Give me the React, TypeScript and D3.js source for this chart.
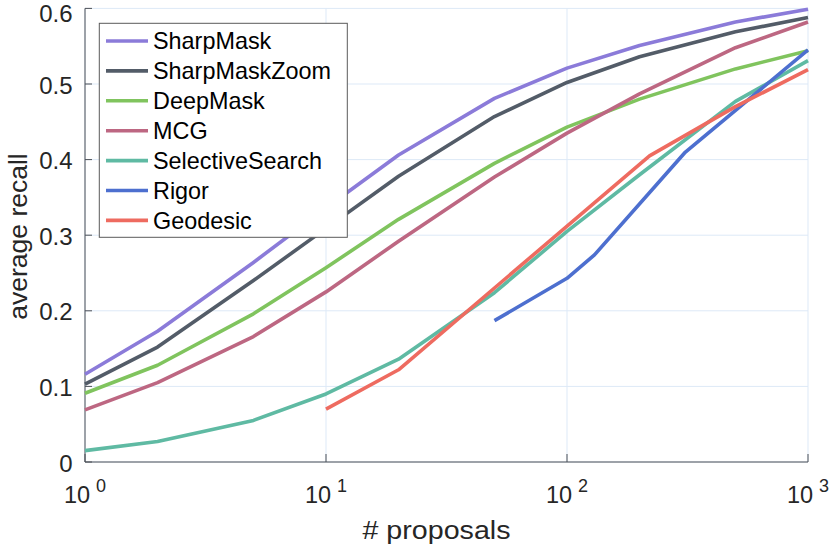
import * as d3 from "d3";

const WIDTH = 830;
const HEIGHT = 547;
const PLOT = { left: 85, right: 808, top: 8.4, bottom: 462 };

// proposals on a log axis
const proposals = [1, 2, 5, 10, 20, 50, 100, 200, 500, 1000];

const sharpMask = [0.116, 0.173, 0.264, 0.336, 0.406, 0.481, 0.521, 0.551, 0.582, 0.599];
const sharpMaskZoom = [0.103, 0.152, 0.24, 0.309, 0.378, 0.457, 0.502, 0.536, 0.569, 0.588];
const deepMask = [0.091, 0.128, 0.196, 0.257, 0.321, 0.395, 0.443, 0.48, 0.52, 0.544];
const mcg = [0.069, 0.105, 0.166, 0.225, 0.292, 0.377, 0.435, 0.487, 0.548, 0.582];
const selectiveSearch = [0.015, 0.027, 0.055, 0.09, 0.136, 0.224, 0.305, 0.38, 0.477, 0.531];

const rigorX = [50, 100, 130, 310, 1000];
const rigorY = [0.187, 0.243, 0.274, 0.41, 0.545];

const geodesicX = [10, 20, 220, 500, 1000];
const geodesicY = [0.07, 0.122, 0.405, 0.47, 0.519];

const yTicks = [0, 0.1, 0.2, 0.3, 0.4, 0.5, 0.6];
const xTicks = [1, 10, 100, 1000];

type Series = { name: string; color: string; x: number[]; y: number[] };

const series: Series[] = [
  { name: "SharpMask", color: "#8b7bd9", x: proposals, y: sharpMask },
  { name: "SharpMaskZoom", color: "#535c68", x: proposals, y: sharpMaskZoom },
  { name: "DeepMask", color: "#80c45e", x: proposals, y: deepMask },
  { name: "MCG", color: "#bd6782", x: proposals, y: mcg },
  { name: "SelectiveSearch", color: "#5fbaa3", x: proposals, y: selectiveSearch },
  { name: "Rigor", color: "#4d6fcf", x: rigorX, y: rigorY },
  { name: "Geodesic", color: "#ee6b60", x: geodesicX, y: geodesicY },
];

const FONT = "'Liberation Sans', Arial, Helvetica, sans-serif";
const TEXT = "#262626";
const AXIS = "#4d5157";
const GRID = "#dde9f7";

export default function App() {
  const xScale = d3.scaleLog().domain([1, 1000]).range([PLOT.left, PLOT.right]);
  const yScale = d3.scaleLinear().domain([0, 0.6]).range([PLOT.bottom, PLOT.top]);

  const line = d3
    .line<[number, number]>()
    .x((d) => xScale(d[0]))
    .y((d) => yScale(d[1]));

  const legend = { x: 99.3, y: 23.3, w: 248, h: 214, row: 29.9, first: 41 };

  return (
    <div style={{ position: "fixed", left: 0, top: 0 }}>
      <svg width={WIDTH} height={HEIGHT} fontFamily={FONT} style={{ display: "block", background: "#fff" }}>
        {/* grid */}
        {yTicks.map((t) => (
          <line key={"gy" + t} x1={PLOT.left} x2={PLOT.right} y1={yScale(t)} y2={yScale(t)} stroke={GRID} strokeWidth={1} />
        ))}
        {xTicks.map((t) => (
          <line key={"gx" + t} x1={xScale(t)} x2={xScale(t)} y1={PLOT.top} y2={PLOT.bottom} stroke={GRID} strokeWidth={1} />
        ))}

        {/* axes */}
        <line x1={PLOT.left} x2={PLOT.left} y1={PLOT.top} y2={PLOT.bottom} stroke={AXIS} strokeWidth={1} />
        <line x1={PLOT.left} x2={PLOT.right} y1={PLOT.bottom} y2={PLOT.bottom} stroke={AXIS} strokeWidth={1} />
        {yTicks.map((t) => (
          <g key={"ty" + t}>
            <line x1={PLOT.left} x2={PLOT.left + 7} y1={yScale(t)} y2={yScale(t)} stroke={AXIS} strokeWidth={1} />
            <text
              x={72.5}
              y={Math.max(yScale(t) + 1, 13)}
              dy="0.36em"
              textAnchor="end"
              fontSize={24}
              fill={TEXT}
            >
              {t === 0 ? "0" : t.toFixed(1)}
            </text>
          </g>
        ))}
        {xTicks.map((t) => (
          <g key={"tx" + t}>
            <line x1={xScale(t)} x2={xScale(t)} y1={PLOT.bottom} y2={PLOT.bottom - 8} stroke={AXIS} strokeWidth={1} />
            <text x={xScale(t)} y={503} textAnchor="middle" fontSize={23.5} fill={TEXT}>
              10
              <tspan dx={6} dy={-11} fontSize={18}>
                {Math.round(Math.log10(t))}
              </tspan>
            </text>
          </g>
        ))}

        {/* series */}
        {series.map((s) => (
          <path
            key={s.name}
            d={line(s.x.map((v, i) => [v, s.y[i]] as [number, number])) ?? ""}
            fill="none"
            stroke={s.color}
            strokeWidth={3.6}
            strokeLinejoin="round"
          />
        ))}

        {/* labels */}
        <text x={436.5} y={539.3} textAnchor="middle" fontSize={26} fill={TEXT} textLength={148} lengthAdjust="spacingAndGlyphs">
          # proposals
        </text>
        <text transform="translate(27,236.5) rotate(-90)" textAnchor="middle" fontSize={26.5} fill={TEXT}>
          average recall
        </text>

        {/* legend */}
        <rect x={legend.x} y={legend.y} width={legend.w} height={legend.h} fill="#fff" stroke="#5a5a5a" strokeWidth={1} />
        {series.map((s, i) => {
          const ly = legend.first + i * legend.row;
          return (
            <g key={"lg" + s.name}>
              <line x1={106} x2={148} y1={ly} y2={ly} stroke={s.color} strokeWidth={3.6} />
              <text x={153} y={ly + 8.2} fontSize={23.4} fill="#000">
                {s.name}
              </text>
            </g>
          );
        })}
      </svg>
    </div>
  );
}
